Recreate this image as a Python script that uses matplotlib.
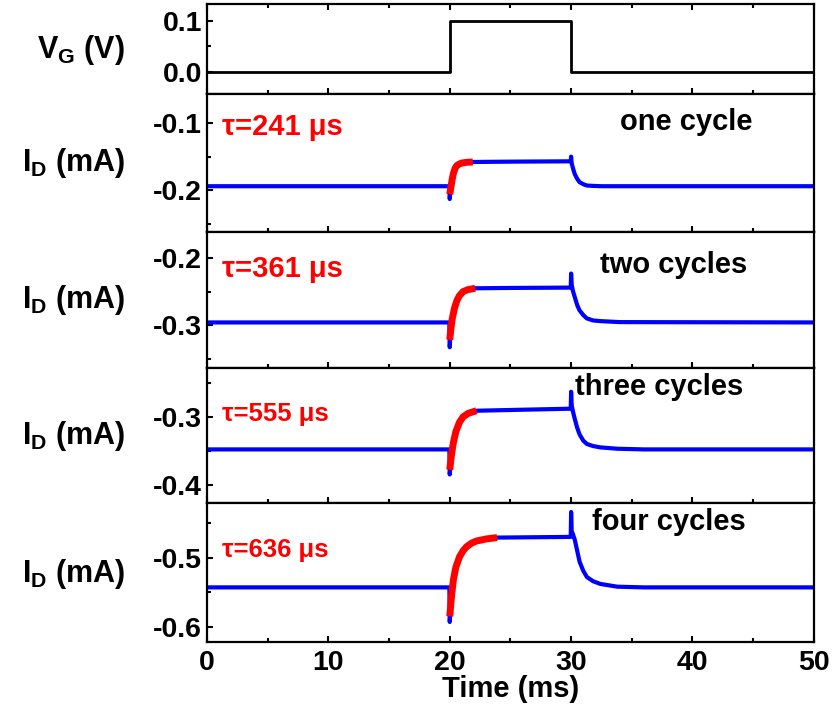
import numpy as np
import matplotlib.pyplot as plt
from matplotlib.ticker import MultipleLocator

plt.rcParams['font.family'] = ['Liberation Sans', 'DejaVu Sans']
plt.rcParams['font.weight'] = 'bold'
plt.rcParams['mathtext.fontset'] = 'custom'
plt.rcParams['mathtext.rm'] = 'Liberation Sans'
plt.rcParams['mathtext.bf'] = 'Liberation Sans:bold'

# Pulso de tensao de porta
t_vg = [0, 20, 20, 30, 30, 50]
vg = [0, 0, 0.1, 0.1, 0, 0]

# Corrente de dreno (mA), um conjunto por numero de ciclos
t_c1 = [0, 19.97, 20.0, 20.03, 20.1, 20.2, 20.3, 20.45, 20.6, 20.8, 21.0, 21.4, 21.9,
        25, 29.97, 30.0, 30.05, 30.15, 30.3, 30.5, 30.7, 31.0, 31.3, 31.8, 32.5, 40, 50]
i_c1 = [-0.194, -0.194, -0.213, -0.206, -0.195, -0.184, -0.175, -0.167, -0.163, -0.161,
        -0.1595, -0.1585, -0.158, -0.1575, -0.157, -0.150, -0.160, -0.167, -0.176, -0.183,
        -0.188, -0.191, -0.193, -0.1935, -0.194, -0.194, -0.194]
t_fit1 = [20.0, 20.1, 20.2, 20.3, 20.45, 20.6, 20.8, 21.0, 21.4, 21.9]
i_fit1 = [-0.206, -0.195, -0.184, -0.175, -0.167, -0.163, -0.161, -0.1595, -0.1585, -0.158]

t_c2 = [0, 19.97, 20.0, 20.03, 20.1, 20.2, 20.4, 20.6, 20.8, 21.1, 21.5, 22.1,
        25, 29.97, 30.0, 30.05, 30.15, 30.3, 30.5, 30.7, 31.0, 31.3, 31.8, 32.4, 34, 50]
i_c2 = [-0.296, -0.296, -0.333, -0.322, -0.305, -0.291, -0.274, -0.263, -0.256, -0.250,
        -0.247, -0.245, -0.2445, -0.244, -0.223, -0.240, -0.249, -0.258, -0.270, -0.278,
        -0.285, -0.290, -0.293, -0.294, -0.2955, -0.296]
t_fit2 = [20.0, 20.1, 20.2, 20.4, 20.6, 20.8, 21.1, 21.5, 22.1]
i_fit2 = [-0.322, -0.305, -0.291, -0.274, -0.263, -0.256, -0.250, -0.247, -0.245]

t_c3 = [0, 19.97, 20.0, 20.03, 20.15, 20.3, 20.5, 20.8, 21.1, 21.5, 22.2,
        26, 29.97, 30.0, 30.05, 30.15, 30.3, 30.5, 30.7, 31.0, 31.3, 31.8, 32.4, 33.8, 36, 50]
i_c3 = [-0.348, -0.348, -0.385, -0.378, -0.355, -0.338, -0.322, -0.308, -0.300, -0.295,
        -0.291, -0.2895, -0.288, -0.263, -0.283, -0.292, -0.303, -0.316, -0.326, -0.335,
        -0.340, -0.343, -0.345, -0.347, -0.348, -0.348]
t_fit3 = [20.0, 20.15, 20.3, 20.5, 20.8, 21.1, 21.5, 22.2]
i_fit3 = [-0.378, -0.355, -0.338, -0.322, -0.308, -0.300, -0.295, -0.291]

t_c4 = [0, 19.97, 20.0, 20.03, 20.15, 20.3, 20.5, 20.8, 21.1, 21.4, 21.8, 22.2, 23.0, 23.9,
        27, 29.97, 30.0, 30.05, 30.15, 30.3, 30.5, 30.7, 31.0, 31.3, 31.8, 32.4, 33.8, 36, 50]
i_c4 = [-0.543, -0.543, -0.593, -0.585, -0.555, -0.532, -0.514, -0.499, -0.490, -0.484,
        -0.479, -0.476, -0.473, -0.471, -0.4705, -0.470, -0.434, -0.462, -0.466, -0.474,
        -0.490, -0.506, -0.519, -0.528, -0.534, -0.538, -0.542, -0.543, -0.543]
t_fit4 = [20.0, 20.15, 20.3, 20.5, 20.8, 21.1, 21.4, 21.8, 22.2, 23.0, 23.9]
i_fit4 = [-0.585, -0.555, -0.532, -0.514, -0.499, -0.490, -0.484, -0.479, -0.476, -0.473, -0.471]

taus = ['241', '361', '555', '636']
ciclos = ['one cycle', 'two cycles', 'three cycles', 'four cycles']

curvas = [(t_c1, i_c1, t_fit1, i_fit1), (t_c2, i_c2, t_fit2, i_fit2),
          (t_c3, i_c3, t_fit3, i_fit3), (t_c4, i_c4, t_fit4, i_fit4)]
ylims = [(-0.262, -0.057), (-0.364, -0.161), (-0.427, -0.228), (-0.622, -0.421)]
yticks = [[-0.1, -0.2], [-0.2, -0.3], [-0.3, -0.4], [-0.5, -0.6]]
# posicao dos textos (fracao do eixo)
pos_ciclo = [(0.680, 0.80), (0.647, 0.76), (0.606, 0.86), (0.634, 0.86)]
pos_tau = [(0.025, 0.76), (0.025, 0.73), (0.025, 0.66), (0.025, 0.66)]
tam_tau = [21, 21, 18.5, 18.5]

fig = plt.figure(figsize=(8.33, 7.12), dpi=100)
gs = fig.add_gridspec(5, 1, height_ratios=[90, 138, 136, 135, 139], hspace=0,
                      left=0.2485, right=0.977, top=0.9944, bottom=0.0983)
axs = [fig.add_subplot(gs[i]) for i in range(5)]

for ax in axs:
    ax.set_xlim(0, 50)
    ax.xaxis.set_major_locator(MultipleLocator(10))
    ax.xaxis.set_minor_locator(MultipleLocator(5))
    ax.tick_params(which='both', direction='in', labelsize=20.5, width=1.5)
    ax.tick_params(which='major', length=4)
    ax.tick_params(which='minor', length=3)
    ax.tick_params(axis='x', pad=6)
    for s in ax.spines.values():
        s.set_linewidth(1.6)
    if ax is not axs[-1]:
        ax.tick_params(axis='x', labelbottom=False)

# painel superior VG
ax = axs[0]
ax.plot(t_vg, vg, color='black', lw=2.0)
ax.set_ylim(-0.043, 0.133)
ax.set_yticks([0.0, 0.1])
ax.set_yticklabels(['0.0', '0.1'])
ax.yaxis.set_minor_locator(MultipleLocator(0.05))
ax.tick_params(axis='x', which='both', top=True)
fig.text(125/833, 1 - 50/712, r'V$_\mathregular{G}$ (V)', ha='right', va='center',
         fontsize=22, fontweight='bold')

centros = [163, 300, 436, 574]
for k in range(4):
    ax = axs[k + 1]
    t, i, tf, fi = curvas[k]
    ax.plot(t, i, color='#0000FF', lw=3.0, solid_joinstyle='round')
    ax.plot(tf, fi, color='#FF0000', lw=5.0, solid_capstyle='butt')
    ax.set_ylim(*ylims[k])
    ax.set_yticks(yticks[k])
    ax.set_yticklabels(['%.1f' % v for v in yticks[k]])
    ax.yaxis.set_minor_locator(MultipleLocator(0.05))
    ax.text(pos_ciclo[k][0], pos_ciclo[k][1], ciclos[k], transform=ax.transAxes,
            fontsize=21, fontweight='bold', va='center', ha='left')
    ax.text(pos_tau[k][0], pos_tau[k][1], '\u03c4=' + taus[k] + ' \u03bcs',
            transform=ax.transAxes, fontsize=tam_tau[k], fontweight='bold',
            color='#FF0000', va='center', ha='left')
    fig.text(125/833, 1 - centros[k]/712, r'I$_\mathbf{D}$ (mA)', ha='right', va='center',
             fontsize=22, fontweight='bold')

axs[-1].set_xlabel('Time (ms)', fontsize=21, fontweight='bold', labelpad=-1)

plt.savefig('out.png', dpi=100)
